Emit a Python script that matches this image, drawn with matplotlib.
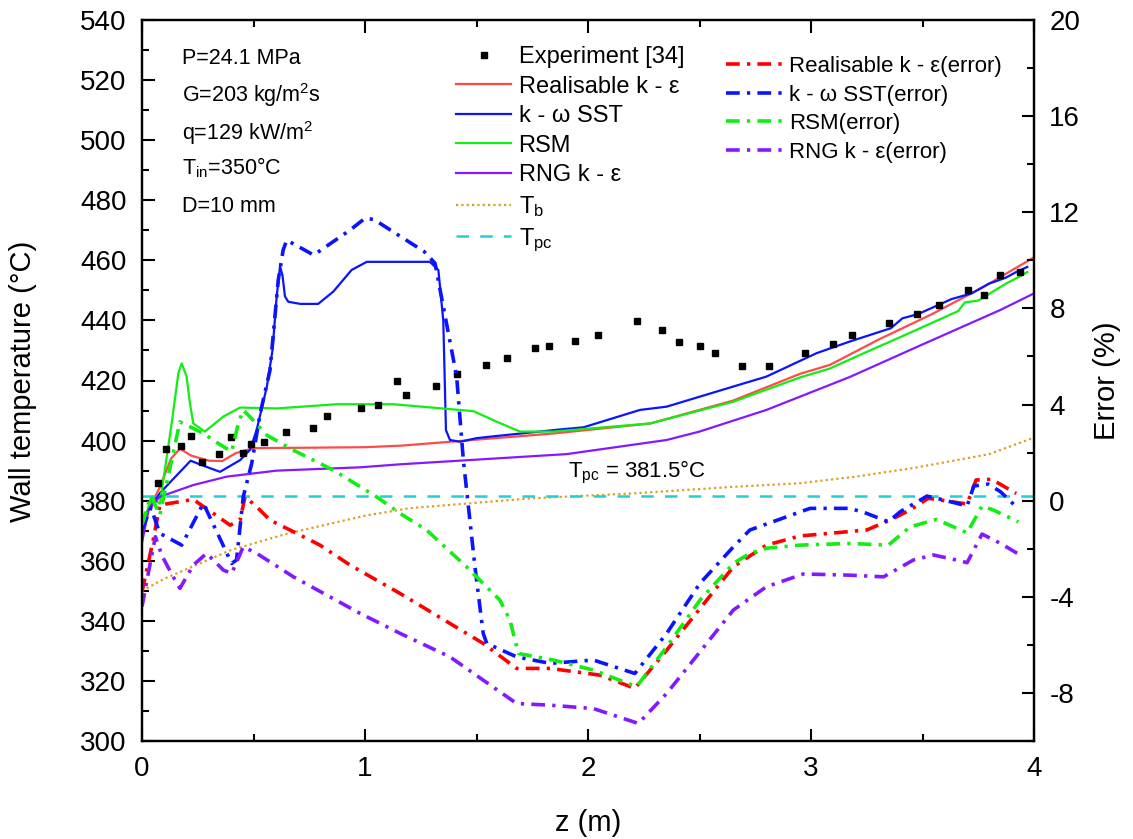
import matplotlib
matplotlib.use("Agg")
import matplotlib.pyplot as plt
from matplotlib.ticker import MultipleLocator

plt.rcParams['font.family'] = ['Liberation Sans', 'DejaVu Sans']
plt.rcParams['mathtext.fontset'] = 'custom'
plt.rcParams['mathtext.rm'] = 'Liberation Sans'
plt.rcParams['mathtext.it'] = 'Liberation Sans'
plt.rcParams['mathtext.default'] = 'regular'
plt.rcParams['axes.unicode_minus'] = False

# ---- measured wall temperature ----
exp_z = [0.07, 0.108, 0.173, 0.218, 0.27, 0.344, 0.398, 0.453, 0.487, 0.548, 0.646,
         0.767, 0.831, 0.982, 1.06, 1.142, 1.182, 1.317, 1.411, 1.543, 1.638, 1.762,
         1.827, 1.943, 2.047, 2.221, 2.333, 2.41, 2.504, 2.57, 2.689, 2.81, 2.973,
         3.097, 3.184, 3.35, 3.475, 3.573, 3.702, 3.774, 3.846, 3.937]
exp_T = [386, 397.2, 398.2, 401.6, 392.8, 395.5, 401.1, 396, 398.9, 399.6, 402.8,
         404.2, 408.1, 410.8, 411.8, 419.8, 415.1, 418.2, 422.1, 425.2, 427.6, 430.9,
         431.4, 433.1, 435.2, 439.8, 436.7, 432.8, 431.5, 429.1, 424.8, 424.8, 429.1,
         432.1, 435.1, 439, 442.1, 445, 450, 448.5, 455, 456]

# ---- predicted wall temperature ----
rke_z = [0, 0.03, 0.08, 0.13, 0.17, 0.22, 0.3, 0.36, 0.42, 0.5, 0.7, 1.0, 1.16, 1.5,
         1.85, 2.28, 2.65, 2.95, 3.085, 3.3, 3.54, 3.77, 4.0]
rke_T = [372, 377, 384.5, 394, 397.3, 395, 393.3, 393.2, 395.8, 397.5, 397.6, 397.8,
         398.3, 400.3, 402.4, 405.7, 413.3, 422.2, 425.2, 433.5, 442, 451, 461]

sst_z = [0, 0.04, 0.08, 0.15, 0.218, 0.28, 0.35, 0.44, 0.484, 0.514, 0.56, 0.585,
         0.604, 0.619, 0.63, 0.641, 0.656, 0.71, 0.79, 0.858, 0.94, 1.008, 1.291,
         1.329, 1.351, 1.363, 1.381, 1.426, 1.5, 1.56, 1.874, 1.979, 2.233, 2.353,
         2.652, 2.8, 3.025, 3.175, 3.358, 3.41, 3.48, 3.63, 3.72, 3.797, 3.873, 3.92, 3.97]
sst_T = [374, 378, 382.5, 388, 393.3, 391.5, 389.6, 393.5, 396.9, 403.5, 418, 430,
         448, 458, 455, 448, 446.2, 445.5, 445.5, 449.6, 456.8, 459.5, 459.5,
         456.8, 440, 403.5, 400.2, 399.6, 400.8, 401.3, 403.7, 404.4, 410.2, 411.3,
         418, 421.3, 429.1, 433, 437.4, 440.7, 442.1, 447.1, 449, 452.2, 454.2, 456.1, 457.8]

rsm_z = [0, 0.04, 0.08, 0.133, 0.163, 0.178, 0.2, 0.215, 0.23, 0.282, 0.365, 0.44,
         0.604, 0.873, 1.127, 1.486, 1.59, 1.695, 1.844, 2.278, 2.65, 2.95, 3.085,
         3.237, 3.39, 3.66, 3.69, 3.75, 3.873, 3.93, 3.97]
rsm_T = [370, 381, 379, 405.7, 422.4, 425.7, 421.3, 412.4, 405.7, 403, 408, 411,
         410.7, 412.1, 412.1, 409.8, 406.3, 403, 403, 405.7, 412.9, 421, 424,
         429.1, 434.1, 443.1, 446, 446.6, 452.2, 454.4, 456.1]

rng_z = [0, 0.03, 0.08, 0.23, 0.38, 0.604, 0.978, 1.157, 1.905, 2.353, 2.5, 2.8,
         3.175, 3.5, 3.85, 4.0]
rng_T = [366, 377, 381.3, 385.2, 388, 390, 391.1, 392.1, 395.5, 400.2, 403, 410.2,
         421.2, 432, 443.5, 449]

tb_z = [0, 0.1, 0.4, 0.65, 1.0, 1.2, 1.75, 2.2, 2.65, 2.95, 3.2, 3.47, 3.8, 4.0]
tb_T = [350, 354, 363.6, 369, 375, 377.5, 380.8, 382.4, 384.6, 385.8, 388, 391,
        395.5, 401]

T_PC = 381.5

# ---- relative error (%) ----
rke_err_z = [0, 0.05, 0.08, 0.23, 0.32, 0.395, 0.44, 0.462, 0.514, 0.574, 0.679,
             0.798, 0.933, 1.157, 1.53, 1.68, 1.83, 2.054, 2.21, 2.353, 2.652, 2.8,
             2.95, 3.25, 3.354, 3.444, 3.526, 3.7, 3.74, 3.81, 3.92]
rke_err = [-3.8, -1.64, -0.18, 0.05, -0.53, -1.02, -0.8, 0.16, -0.25, -0.81, -1.29,
           -1.85, -2.68, -3.86, -5.94, -6.98, -6.98, -7.26, -7.81, -6.22, -2.75, -1.85,
           -1.47, -1.22, -0.81, -0.39, 0.1, -0.14, 0.86, 0.89, 0.3]

sst_err_z = [0, 0.04, 0.08, 0.178, 0.275, 0.402, 0.424, 0.454, 0.492, 0.53, 0.574,
             0.611, 0.633, 0.649, 0.77, 0.933, 1.0, 1.04, 1.266, 1.314, 1.411, 1.441,
             1.493, 1.53, 1.546, 1.68, 1.83, 2.024, 2.21, 2.353, 2.502, 2.652, 2.726,
             2.996, 3.175, 3.25, 3.347, 3.4, 3.52, 3.563, 3.7, 3.73, 3.795, 3.85, 3.92]
sst_err = [-1.2, -0.3, -1.36, -1.85, -0.11, -2.61, -2.47, 0.16, 1.55, 3.63, 5.43,
           9.18, 10.43, 10.84, 10.22, 11.26, 11.75, 11.7, 10.36, 9.88, 5.16, 1.69,
           -2.75, -5.52, -5.94, -6.5, -6.77, -6.63, -7.19, -5.52, -3.44, -1.92, -1.22,
           -0.32, -0.32, -0.53, -0.88, -0.46, 0.19, 0.1, -0.22, 0.61, 0.69, 0.37, -0.25]

rsm_err_z = [0, 0.04, 0.08, 0.17, 0.275, 0.342, 0.402, 0.432, 0.454, 0.484, 0.559,
             0.679, 0.858, 1.052, 1.157, 1.276, 1.455, 1.5, 1.605, 1.65, 1.688, 1.844,
             2.024, 2.218, 2.353, 2.502, 2.652, 2.726, 2.8, 2.95, 3.175, 3.347, 3.444,
             3.563, 3.7, 3.767, 3.818, 3.93]
rsm_err = [-1.0, 0.2, -0.6, 3.28, 2.8, 2.38, 2.04, 3.22, 3.77, 3.49, 2.73, 2.1, 1.27,
           0.16, -0.53, -1.22, -2.75, -3.17, -4.14, -4.97, -6.36, -6.63, -7.05, -7.74,
           -6.08, -4.14, -2.61, -2.19, -1.98, -1.85, -1.78, -1.85, -1.09, -0.78, -1.34,
           -0.22, -0.39, -0.88]

rng_err_z = [0, 0.028, 0.06, 0.09, 0.14, 0.17, 0.23, 0.29, 0.365, 0.402, 0.454,
             0.514, 0.679, 0.978, 1.157, 1.381, 1.68, 1.83, 2.024, 2.226, 2.353,
             2.652, 2.8, 2.966, 3.175, 3.325, 3.459, 3.549, 3.638, 3.7, 3.767, 3.85, 3.93]
rng_err = [-4.41, -3.03, -1.5, -2.3, -3.17, -3.65, -2.68, -2.19, -2.89, -3.03, -1.92,
           -2.19, -3.17, -4.69, -5.52, -6.5, -8.44, -8.51, -8.65, -9.27, -8.02, -4.55,
           -3.58, -3.05, -3.1, -3.17, -2.47, -2.26, -2.44, -2.58, -1.39, -1.78, -2.22]

# ---- styling ----
C_RKE, C_RKE_ERR = '#ff4a4a', '#ff0000'
C_SST = '#0a14ff'
C_RSM = '#11ee11'
C_RNG = '#8419ff'
C_TB = '#d9a020'
C_TPC = '#22cfd6'
DASHDOT = (0, (3.8, 2.0, 0.9, 2.0))
LW, LW_ERR = 1.6, 2.6

fig = plt.figure(figsize=(11.33, 8.39), dpi=100)
ax = fig.add_axes([142 / 1133, 1 - 741 / 839, 892 / 1133, 721 / 839])
ax2 = ax.twinx()

ax.plot(exp_z, exp_T, ls='none', marker='s', ms=4.3, color='black',
        label='Experiment [34]', zorder=5)
ax.plot(rke_z, rke_T, color=C_RKE, lw=LW, label='Realisable k - ε')
ax.plot(sst_z, sst_T, color=C_SST, lw=LW, label='k - ω SST')
ax.plot(rsm_z, rsm_T, color=C_RSM, lw=LW, label='RSM')
ax.plot(rng_z, rng_T, color=C_RNG, lw=LW, label='RNG k - ε')
ax.plot(tb_z, tb_T, color=C_TB, lw=1.6, ls=(0, (1, 1.4)), label='$T_b$')
ax.plot([0, 4], [T_PC, T_PC], color=C_TPC, lw=1.8, ls=(0, (5, 4.5)), label='$T_{pc}$')

ax2.plot(rke_err_z, rke_err, color=C_RKE_ERR, lw=LW_ERR, ls=DASHDOT,
         label='Realisable k - ε(error)')
ax2.plot(sst_err_z, sst_err, color=C_SST, lw=LW_ERR, ls=DASHDOT,
         label='k - ω SST(error)')
ax2.plot(rsm_err_z, rsm_err, color=C_RSM, lw=LW_ERR, ls=DASHDOT,
         label='RSM(error)')
ax2.plot(rng_err_z, rng_err, color=C_RNG, lw=LW_ERR, ls=DASHDOT,
         label='RNG k - ε(error)')

ax.set_xlim(0, 4)
ax.set_ylim(300, 540)
ax2.set_ylim(-10, 20)

ax.xaxis.set_major_locator(MultipleLocator(1))
ax.xaxis.set_minor_locator(MultipleLocator(0.5))
ax.yaxis.set_major_locator(MultipleLocator(20))
ax.yaxis.set_minor_locator(MultipleLocator(10))
ax2.yaxis.set_major_locator(MultipleLocator(4))
ax2.yaxis.set_minor_locator(MultipleLocator(2))

ax.tick_params(which='both', direction='in', top=True, right=False, width=1.5,
               labelsize=20, pad=11)
ax.tick_params(which='major', length=9)
ax.tick_params(which='minor', length=5)
ax2.tick_params(which='both', direction='in', width=1.5, labelsize=20, pad=11)
ax2.tick_params(which='major', length=9)
ax2.tick_params(which='minor', length=5)
for a in (ax, ax2):
    for s in a.spines.values():
        s.set_linewidth(1.6)

fig.text(23 / 1133, 1 - 381 / 839, 'Wall temperature (°C)', rotation=90,
         ha='center', va='center', fontsize=21)
fig.text(1107 / 1133, 1 - 381 / 839, 'Error (%)', rotation=90,
         ha='center', va='center', fontsize=21)
fig.text(588 / 1133, 1 - 823 / 839, 'z (m)', ha='center', va='center', fontsize=21)

# operating conditions
cond = ['P=24.1 MPa', 'G=203 kg/m$^2$s', 'q=129 kW/m$^2$', '$T_{in}$=350°C', 'D=10 mm']
cond_y = [58, 95, 133, 168, 206]
for s, y in zip(cond, cond_y):
    fig.text(182 / 1133, 1 - y / 839, s, ha='left', va='center', fontsize=15.5)

ax.text(2.22, 389.5, '$T_{pc}$ = 381.5°C', ha='center', va='center', fontsize=16)

leg1 = ax.legend(loc='upper left', bbox_to_anchor=(456 / 1133, 1 - 46 / 839),
                 bbox_transform=fig.transFigure, frameon=False, fontsize=17,
                 handlelength=2.35, handletextpad=0.3, labelspacing=0.32,
                 borderpad=0, borderaxespad=0, markerscale=1.0, numpoints=1)
leg2 = ax2.legend(loc='upper left', bbox_to_anchor=(726 / 1133, 1 - 56 / 839),
                  bbox_transform=fig.transFigure, frameon=False, fontsize=16,
                  handlelength=2.5, handletextpad=0.32, labelspacing=0.34,
                  borderpad=0, borderaxespad=0)

fig.savefig('out.png', dpi=100)
